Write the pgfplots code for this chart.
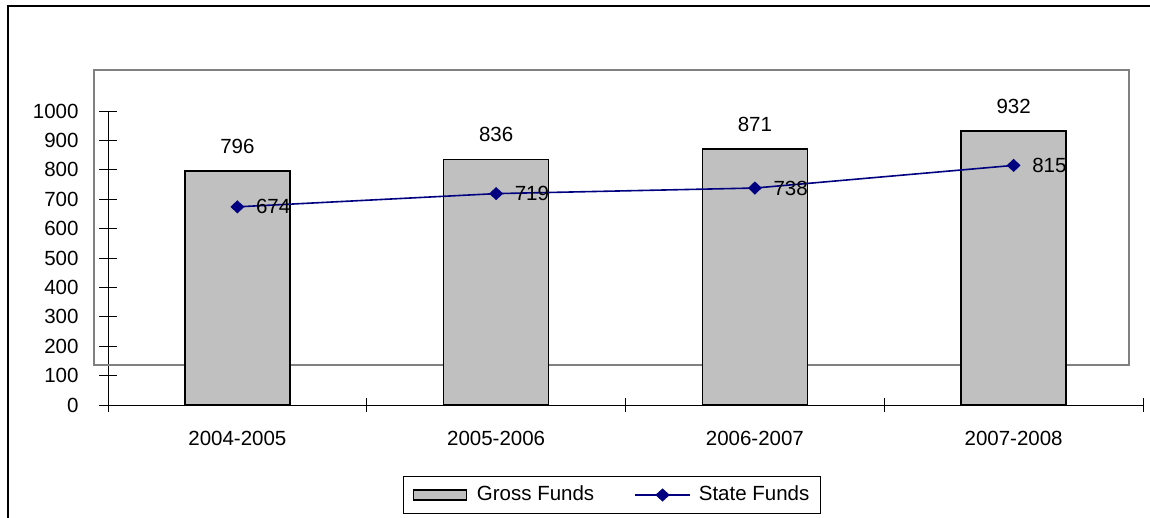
\documentclass[border=0pt]{standalone}
\usepackage{fontspec}
\setmainfont{Liberation Sans}
\usepackage{pgfplots}
\pgfplotsset{compat=1.18}
\definecolor{barfill}{HTML}{C0C0C0}
\definecolor{navyline}{HTML}{000080}
\definecolor{framegray}{HTML}{808080}
\newcommand{\chartfont}{\fontsize{20.5bp}{24bp}\selectfont}

\begin{document}
\chartfont
\begin{tikzpicture}
\useasboundingbox (0,0) rectangle (1150bp,-518bp);
\draw[line width=1.2bp] (8bp,-518bp) -- (8bp,-6bp) -- (1150bp,-6bp);
\begin{axis}[
  at={(108bp,-405bp)}, anchor=south west,
  scale only axis, width=1035bp, height=294bp,
  xmin=-0.5, xmax=3.5, ymin=0, ymax=1000,
  clip=false,
  ybar, bar width=105bp,
  axis x line*=bottom, axis y line*=left,
  axis line style={-, line width=0.8bp},
  xtick={0,1,2,3},
  xticklabels={2004-2005,2005-2006,2006-2007,2007-2008},
  minor xtick={-0.5,0.5,1.5,2.5,3.5},
  ytick={0,100,...,1000},
  tick align=center,
  major tick length=17bp,
  minor tick length=14bp,
  every major x tick/.append style={draw=none},
  tick style={black, line width=0.8bp},
  /pgf/number format/assume math mode=true,
  /pgf/number format/1000 sep={},
  ticklabel style={font=\chartfont},
  yticklabel style={xshift=-14bp},
  xticklabel style={yshift=-11bp},
  legend style={at={(0.487,-0.306)}, anchor=center, legend columns=2,
    draw=black, line width=1bp, font=\chartfont,
    inner xsep=9bp, inner ysep=8bp,
    /tikz/every even column/.append style={column sep=38bp}},
]
\draw[framegray, line width=1.5bp] (axis cs:-0.554,136) rectangle (axis cs:3.446,1139);
\addplot[fill=barfill, draw=black, line width=1.4bp,
  nodes near coords,
  nodes near coords style={font=\chartfont, black, yshift=10bp},
  legend image code/.code={\draw[fill=barfill, draw=black, line width=1.2bp] (0bp,-5bp) rectangle (53bp,5bp);}]
  coordinates {(0,796) (1,836) (2,871) (3,932)};
\addlegendentry{\hspace{8bp}Gross Funds}
\addplot[sharp plot, navyline, line width=1.6bp, mark=diamond*, mark size=5.5bp,
  mark options={xscale=1.4},
  nodes near coords,
  nodes near coords style={font=\chartfont, black, anchor=west, xshift=11bp},
  legend image code/.code={\draw[navyline, line width=1.6bp] (0bp,0bp) -- (55bp,0bp);
    \fill[navyline] (27.5bp,5.5bp) -- (33.5bp,0bp) -- (27.5bp,-5.5bp) -- (21.5bp,0bp) -- cycle;}]
  coordinates {(0,674) (1,719) (2,738) (3,815)};
\addlegendentry{\hspace{6bp}State Funds}
\end{axis}
\end{tikzpicture}
\end{document}
